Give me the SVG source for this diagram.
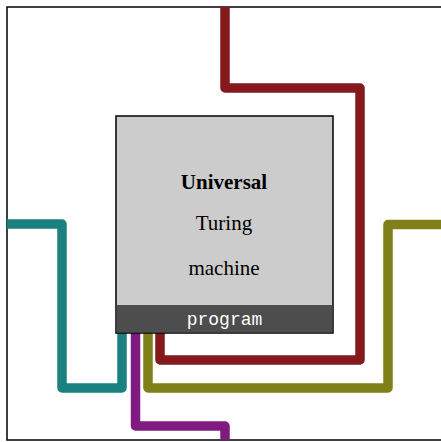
<svg xmlns="http://www.w3.org/2000/svg" width="441" height="442" viewBox="0 0 441 442">
<style>
.w{fill:none;stroke-width:9.5;stroke-linejoin:round;stroke-linecap:butt}
.t{font-family:"Liberation Serif","Times New Roman",serif;font-size:21px;fill:#000;text-anchor:middle}
</style>
<rect width="441" height="442" fill="#fff"/>
<rect x="7" y="7" width="450" height="433" fill="none" stroke="#000" stroke-width="1.5"/>
<g id="connectors">
<path class="w" stroke="#841a1c" d="M225,7 V88 H360 V360 H160 V320"/>
<path class="w" stroke="#808019" d="M441,224.5 H388 V388 H148 V320"/>
<path class="w" stroke="#1a8080" d="M7,224 H62 V388 H122 V320"/>
<path class="w" stroke="#801a80" d="M135.5,320 V426 H225 V440"/>
</g>
<g id="utm">
<rect x="116" y="116" width="217" height="217" fill="#cccccc" stroke="#000" stroke-width="1.5"/>
<rect x="116.75" y="305" width="215.5" height="27.25" fill="#4d4d4d"/>
<text class="t" x="224" y="189" font-weight="bold">Universal</text>
<text class="t" x="224" y="230">Turing</text>
<text class="t" x="224" y="275">machine</text>
<text x="224.5" y="325" font-family="Liberation Mono,monospace" font-size="18" fill="#fff" text-anchor="middle">program</text>
</g>
</svg>
